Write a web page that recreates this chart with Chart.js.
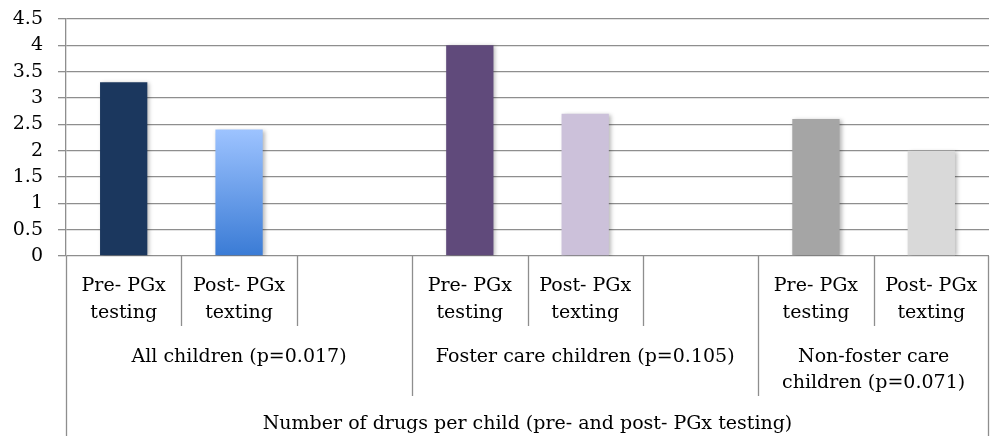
<!DOCTYPE html>
<html>
<head>
<meta charset="utf-8">
<script src="https://cdn.jsdelivr.net/npm/chart.js@4"></script>
<style>
  html, body { margin: 0; padding: 0; background: #fff; }
  #wrap { width: 990px; height: 436px; }
</style>
</head>
<body>
<div id="wrap"><canvas id="grafico" width="990" height="436"></canvas></div>
<script>
// ---------- datos ----------
const slotLabels = [
  ['Pre- PGx', 'testing'], ['Post- PGx', 'texting'], '',
  ['Pre- PGx', 'testing'], ['Post- PGx', 'texting'], '',
  ['Pre- PGx', 'testing'], ['Post- PGx', 'texting']
];
const drugValues = [3.3, 2.4, null, 4.0, 2.7, null, 2.6, 2.0];
const groupLabels = [
  ['All children (p=0.017)'],
  ['Foster care children (p=0.105)'],
  ['Non-foster care', 'children (p=0.071)']
];
const groupSlots = [[0, 2], [3, 5], [6, 7]]; // primer y último slot de cada grupo
const axisTitle = 'Number of drugs per child (pre- and post- PGx testing)';
const yTicks = { min: 0, max: 4.5, step: 0.5 };

// colores por barra
const barColors = ['#1B375E', 'grad', null, '#604A7B', '#CCC1DA', null, '#A5A5A5', '#D9D9D9'];

const FONT = '"DejaVu Serif", serif';
const FSIZE = 19;
const LINE = '#8E8E8E';

// degradado de la barra celeste
function barFill(ctx) {
  const c = barColors[ctx.dataIndex];
  if (c !== 'grad') return c;
  const { chart } = ctx;
  if (!chart.chartArea) return '#6FA0EE';
  const y = chart.scales.y;
  const g = chart.ctx.createLinearGradient(0, y.getPixelForValue(drugValues[ctx.dataIndex]), 0, y.getPixelForValue(0));
  g.addColorStop(0, '#9DC3FF');
  g.addColorStop(1, '#3A7BD5');
  return g;
}

// sombra suave en las barras
const barShadow = {
  id: 'barShadow',
  beforeDatasetsDraw(chart) {
    const c = chart.ctx;
    c.save();
    c.shadowColor = 'rgba(0,0,0,0.28)';
    c.shadowBlur = 4;
    c.shadowOffsetX = 2;
    c.shadowOffsetY = 1;
  },
  afterDatasetsDraw(chart) { chart.ctx.restore(); }
};

// eje de categorías de varios niveles
const multiAxis = {
  id: 'multiAxis',
  afterDraw(chart) {
    const x = chart.scales.x;
    const c = chart.ctx;
    const top = chart.chartArea.bottom;
    const edge = (i) => x.getPixelForValue(i - 0.5); // borde izquierdo del slot i
    const n = slotLabels.length;
    const rowEnd = top + 70, groupEnd = top + 140, bottom = chart.height;

    c.save();
    c.strokeStyle = LINE;
    c.lineWidth = 1.3;
    const vline = (px, y2) => {
      c.beginPath();
      c.moveTo(Math.round(px) + 0.5, top);
      c.lineTo(Math.round(px) + 0.5, y2);
      c.stroke();
    };
    const groupStarts = groupSlots.map(g => g[0]);
    for (let i = 0; i <= n; i++) {
      if (i === 0) vline(edge(0), bottom);
      else if (i === n) vline(edge(n) - 1, bottom);
      else if (groupStarts.includes(i)) vline(edge(i), groupEnd);
      else vline(edge(i), rowEnd);
    }

    c.fillStyle = '#000';
    c.textAlign = 'center';
    c.textBaseline = 'middle';
    c.font = FSIZE + 'px ' + FONT;
    groupSlots.forEach((g, k) => {
      const cx = (edge(g[0]) + edge(g[1] + 1)) / 2;
      groupLabels[k].forEach((t, j) => c.fillText(t, cx, top + 101 + j * 26.5));
    });
    c.fillText(axisTitle, (edge(0) + edge(n)) / 2, top + 168);
    c.restore();
  }
};

new Chart(document.getElementById('grafico'), {
  type: 'bar',
  data: {
    labels: slotLabels,
    datasets: [{
      data: drugValues,
      backgroundColor: barFill,
      borderWidth: 0,
      categoryPercentage: 1,
      barPercentage: 0.41
    }]
  },
  options: {
    responsive: false,
    animation: false,
    layout: { padding: { top: 19, right: 1, left: 0, bottom: 0 } },
    plugins: { legend: { display: false }, tooltip: { enabled: false } },
    scales: {
      x: {
        grid: { display: false },
        border: { display: false },
        ticks: {
          color: '#000',
          font: { family: FONT, size: FSIZE, lineHeight: 1.4 },
          padding: 9,
          maxRotation: 0,
          autoSkip: false
        },
        afterFit(scale) { scale.height = 180; }
      },
      y: {
        min: yTicks.min,
        max: yTicks.max,
        grid: { color: LINE, lineWidth: 1.3, tickLength: 8, drawTicks: true },
        border: { color: LINE, width: 1.3 },
        ticks: {
          stepSize: yTicks.step,
          autoSkip: false,
          color: '#000',
          font: { family: FONT, size: FSIZE },
          padding: 15,
          callback: (v) => String(v)
        },
        afterFit(scale) {
          scale.width = 66;
          scale.paddingTop = 0;
          scale.paddingBottom = 0;
        }
      }
    }
  },
  plugins: [barShadow, multiAxis]
});
</script>
</body>
</html>
